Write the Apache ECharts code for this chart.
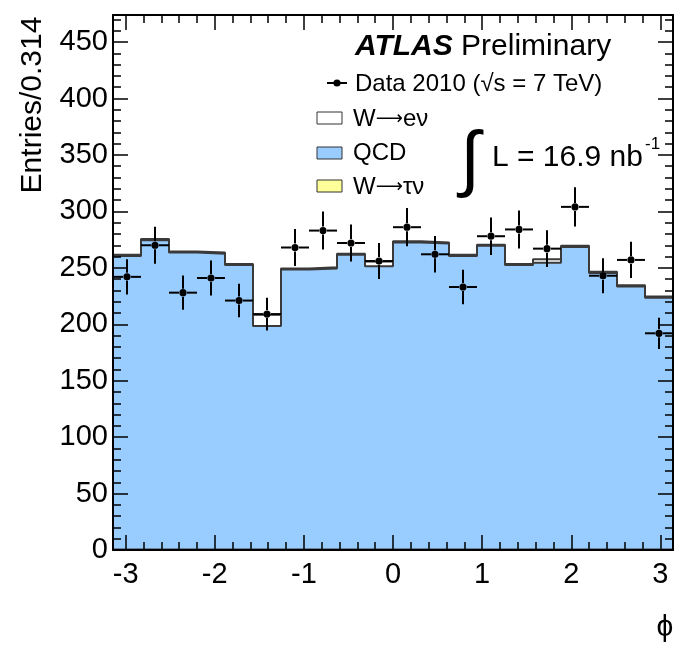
<!DOCTYPE html>
<html>
<head>
<meta charset="utf-8">
<script src="https://cdn.jsdelivr.net/npm/echarts@6/dist/echarts.min.js"></script>
<style>
  html, body { margin: 0; padding: 0; background: #fff; }
  #chart { width: 681px; height: 645px; }
</style>
</head>
<body>
<div id="chart"></div>
<script>
// Azimuthal angle distribution, 20 bins of width 0.314 from -pi to pi
const nBins = 20;
const phiMin = -Math.PI;
const phiMax = Math.PI;

// Stacked MC components per bin
const qcd  = [260, 274, 263, 262, 252, 198, 248, 249, 261, 251, 272, 271, 260, 269, 252, 254, 268, 245, 233, 223];
const wtau = [0.5, 0.5, 0.5, 0.5, 0.5, 0.5, 0.5, 0.5, 0.5, 0.5, 0.5, 0.5, 0.5, 0.5, 0.5, 0.5, 0.5, 0.5, 0.5, 0.5];
const wenu = [1, 1, 1, 1, 1, 10, 1, 1, 1, 4, 1, 1, 1, 1, 1, 3, 1, 1, 1, 1];

// Observed entries per bin
const dataCounts = [242, 270, 228, 241, 221, 209, 268, 283, 272, 256, 286, 262, 233, 278, 284, 267, 304, 243, 257, 192];

// Axis ticks and labels
const xMajorTicks = [-3, -2, -1, 0, 1, 2, 3];
const yMajorTicks = [0, 50, 100, 150, 200, 250, 300, 350, 400, 450];
const yMax = 474;

const binW = (phiMax - phiMin) / nBins;
const edges = [];
for (let i = 0; i <= nBins; i++) edges.push(phiMin + i * binW);

const xMinorTicks = [];
for (let k = -15; k <= 15; k++) xMinorTicks.push(k / 5);
const yMinorTicks = [];
for (let v = 0; v <= 470; v += 10) yMinorTicks.push(v);

// Step outline points for a per-bin array
function stepPoints(vals) {
  const pts = vals.map((v, i) => [edges[i], v]);
  pts.push([edges[nBins], vals[nBins - 1]]);
  return pts;
}

const stackBlue = qcd.map((v, i) => v + wtau[i]);
const stackTotal = stackBlue.map((v, i) => v + wenu[i]);

const FONT = '"Liberation Sans", Arial, Helvetica, sans-serif';
const lineCol = '#3a3a3a';

function histSeries(name, vals, fill) {
  return {
    name: name,
    type: 'line',
    step: 'end',
    data: stepPoints(vals),
    showSymbol: false,
    symbol: 'none',
    lineStyle: { color: lineCol, width: 2 },
    areaStyle: { color: fill, opacity: 1 },
    itemStyle: { color: fill },
    animation: false,
    z: 2
  };
}

function xAxisDef(pos, ticks, len, withLabels, withLine) {
  return {
    type: 'value', position: pos, min: phiMin, max: phiMax, z: 10,
    axisLine: { show: withLine, onZero: false, lineStyle: { color: '#000', width: 2 } },
    axisTick: { show: true, inside: true, length: len, customValues: ticks, lineStyle: { color: '#000', width: 1.5 } },
    axisLabel: withLabels
      ? { show: true, customValues: xMajorTicks, color: '#000', fontSize: 29, fontFamily: FONT, margin: 10 }
      : { show: false },
    splitLine: { show: false }
  };
}

function yAxisDef(pos, ticks, len, withLabels, withLine) {
  return {
    type: 'value', position: pos, min: 0, max: yMax, z: 10,
    axisLine: { show: withLine, onZero: false, lineStyle: { color: '#000', width: 2 } },
    axisTick: { show: true, inside: true, length: len, customValues: ticks, lineStyle: { color: '#000', width: 1.5 } },
    axisLabel: withLabels
      ? { show: true, customValues: yMajorTicks, color: '#000', fontSize: 29, fontFamily: FONT, margin: 5 }
      : { show: false },
    splitLine: { show: false }
  };
}

// Legend label with a centred long arrow between the parts
function arrowLabel(before, after) {
  return {
    text: '{t|' + before + '}{r|⟶}{t|' + after + '}',
    verticalAlign: 'middle',
    rich: {
      t: { font: '24px ' + FONT, fill: '#000' },
      r: { font: '19px "DejaVu Sans", sans-serif', fill: '#000' }
    }
  };
}

const chart = echarts.init(document.getElementById('chart'), null, { renderer: 'canvas' });

const legendX = 317;
const option = {
  animation: false,
  backgroundColor: '#fff',
  grid: { left: 113, right: 8, top: 15, bottom: 95 },
  xAxis: [
    xAxisDef('bottom', xMajorTicks, 15, true, true),
    xAxisDef('bottom', xMinorTicks, 8, false, false),
    xAxisDef('top', xMajorTicks, 15, false, true),
    xAxisDef('top', xMinorTicks, 8, false, false)
  ],
  yAxis: [
    yAxisDef('left', yMajorTicks, 15, true, true),
    yAxisDef('left', yMinorTicks, 8, false, false),
    yAxisDef('right', yMajorTicks, 15, false, true),
    yAxisDef('right', yMinorTicks, 8, false, false)
  ],
  series: [
    histSeries('W→eν', stackTotal, '#ffffff'),
    histSeries('QCD', stackBlue, '#99ccff'),
    histSeries('W→τν', wtau, '#ffff99'),
    {
      name: 'Data 2010',
      type: 'custom',
      z: 5,
      data: dataCounts.map((v, i) => [edges[i] + binW / 2, v, Math.sqrt(v)]),
      renderItem: function (params, api) {
        const x = api.value(0), y = api.value(1), e = api.value(2);
        const c = api.coord([x, y]);
        const l = api.coord([x - binW / 2, y]);
        const r = api.coord([x + binW / 2, y]);
        const t = api.coord([x, y + e]);
        const b = api.coord([x, y - e]);
        const g = 4;
        const st = { stroke: '#000', lineWidth: 2 };
        return {
          type: 'group',
          children: [
            { type: 'line', shape: { x1: l[0], y1: c[1], x2: c[0] - g, y2: c[1] }, style: st },
            { type: 'line', shape: { x1: c[0] + g, y1: c[1], x2: r[0], y2: c[1] }, style: st },
            { type: 'line', shape: { x1: c[0], y1: t[1], x2: c[0], y2: c[1] - g }, style: st },
            { type: 'line', shape: { x1: c[0], y1: c[1] + g, x2: c[0], y2: b[1] }, style: st },
            { type: 'circle', shape: { cx: c[0], cy: c[1], r: 3.6 }, style: { fill: '#000' } }
          ]
        };
      }
    }
  ],
  graphic: [
    // y-axis title
    {
      type: 'text', x: 33, y: 105, rotation: Math.PI / 2,
      style: { text: 'Entries/0.314', font: '30px ' + FONT, fill: '#000', align: 'center', verticalAlign: 'middle' }
    },
    // x-axis title
    {
      type: 'text', x: 665, y: 628,
      style: { text: 'ϕ', font: '30px ' + FONT, fill: '#000', align: 'center', verticalAlign: 'middle' }
    },
    // experiment label
    {
      type: 'text', x: 355, y: 47,
      style: {
        text: '{a|ATLAS}{b| Preliminary}', verticalAlign: 'middle', align: 'left',
        rich: {
          a: { font: 'italic bold 30px ' + FONT, fill: '#000' },
          b: { font: '30px ' + FONT, fill: '#000' }
        }
      }
    },
    // data legend entry
    { type: 'line', shape: { x1: 327, y1: 83, x2: 347, y2: 83 }, style: { stroke: '#000', lineWidth: 2 } },
    { type: 'circle', shape: { cx: 337, cy: 83, r: 3.6 }, style: { fill: '#000' } },
    {
      type: 'text', x: 355, y: 84,
      style: { text: 'Data 2010 (√s = 7 TeV)', font: '24px ' + FONT, fill: '#000', verticalAlign: 'middle' }
    },
    // stacked component legend entries
    { type: 'rect', shape: { x: legendX, y: 112, width: 25, height: 12 }, style: { fill: '#ffffff', stroke: '#333', lineWidth: 1 } },
    { type: 'text', x: 353, y: 119, style: arrowLabel('W', 'eν') },
    { type: 'rect', shape: { x: legendX, y: 147, width: 25, height: 12 }, style: { fill: '#99ccff', stroke: '#333', lineWidth: 1 } },
    { type: 'text', x: 353, y: 153, style: { text: 'QCD', font: '24px ' + FONT, fill: '#000', verticalAlign: 'middle' } },
    { type: 'rect', shape: { x: legendX, y: 180, width: 25, height: 12 }, style: { fill: '#ffff99', stroke: '#333', lineWidth: 1 } },
    { type: 'text', x: 353, y: 187, style: arrowLabel('W', 'τν') },
    // integrated luminosity
    {
      type: 'text', x: 470, y: 162,
      style: { text: '∫', font: 'italic 72px ' + FONT, fill: '#000', align: 'center', verticalAlign: 'middle' }
    },
    {
      type: 'text', x: 492, y: 158,
      style: { text: 'L = 16.9 nb', font: '30px ' + FONT, fill: '#000', verticalAlign: 'middle' }
    },
    {
      type: 'text', x: 645, y: 144,
      style: { text: '-1', font: '17px ' + FONT, fill: '#000', verticalAlign: 'middle' }
    }
  ]
};

chart.setOption(option);
</script>
</body>
</html>
